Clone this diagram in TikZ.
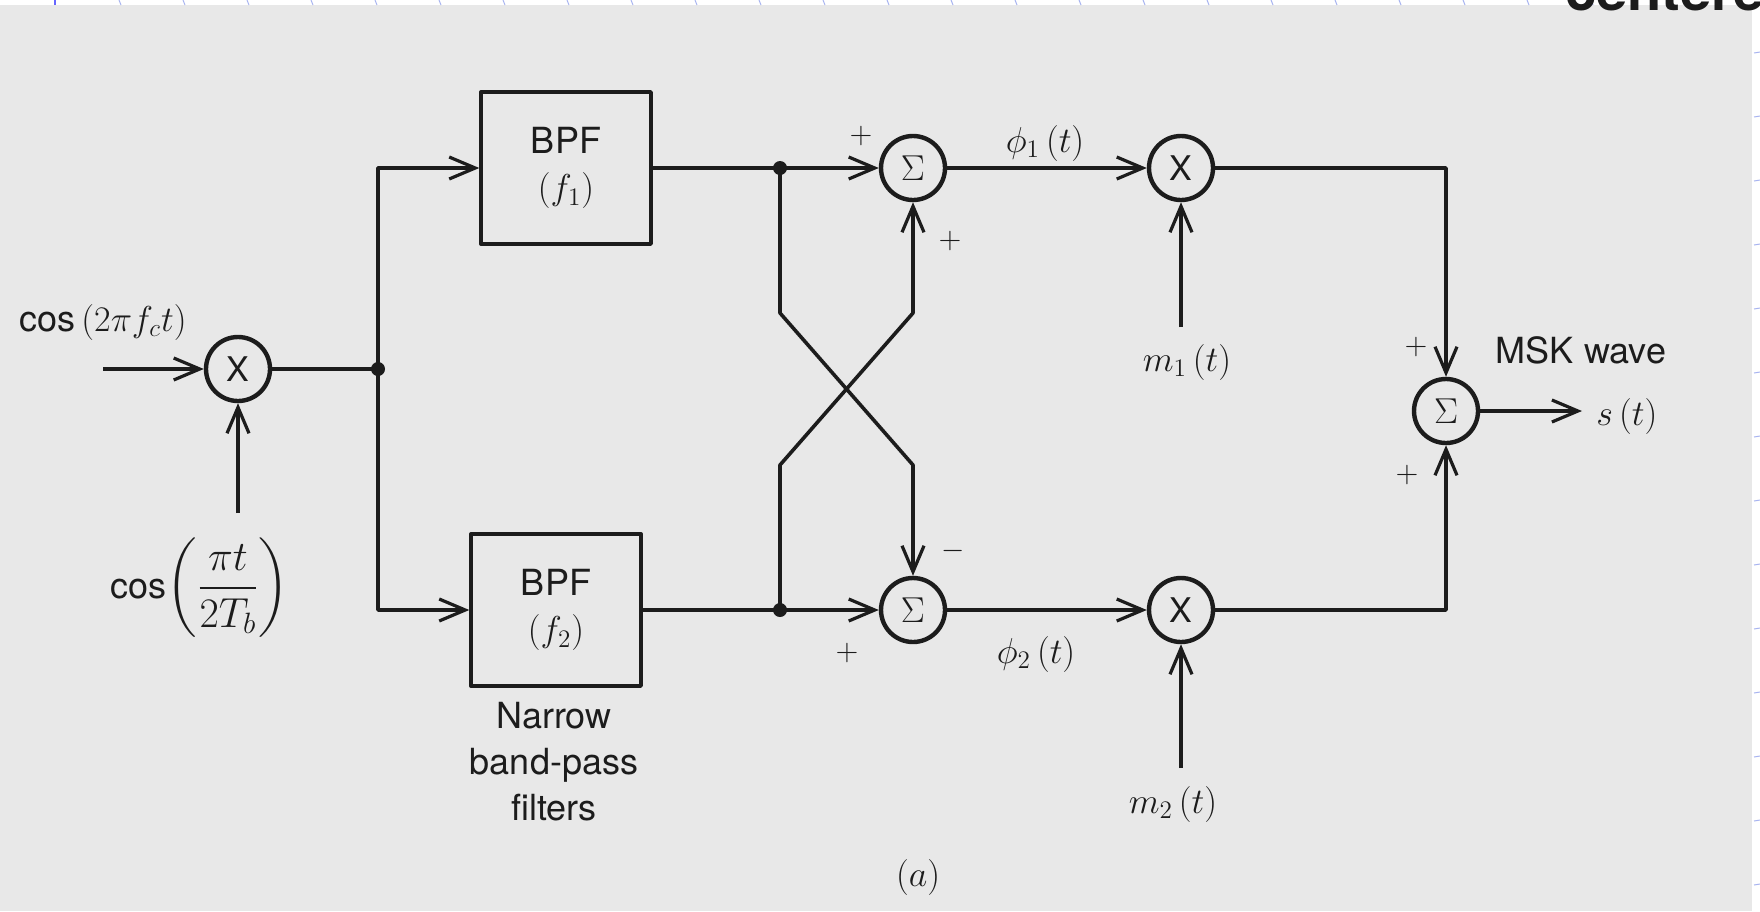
\RequirePackage{fix-cm}
\documentclass[tikz,border=0pt]{standalone}
\usepackage{amsmath}
\usepackage[no-math]{fontspec}
\setmainfont{TeX Gyre Heros}
\usetikzlibrary{arrows.meta}
\definecolor{bg}{HTML}{E8E8E8}
\definecolor{ink}{HTML}{1C1C1C}
\definecolor{tick}{HTML}{A8B4F0}
\begin{document}
\begin{tikzpicture}[x=0.5pt,y=-0.5pt, line join=round,
  every node/.style={text=ink},
  ln/.style={line width=1.8pt, draw=ink},
  arr/.style={ln, -{Straight Barb[length=13pt,width=11pt,line width=1.6pt]}},
  op/.style={circle, draw=ink, line width=2.2pt, minimum size=32pt, inner sep=0pt, font=\fontsize{18}{18}\selectfont},
  filt/.style={rectangle, draw=ink, line width=1.7pt, minimum width=85pt, minimum height=76pt, align=center, font=\fontsize{18}{23}\selectfont},
  lbl/.style={font=\fontsize{18}{23}\selectfont, inner sep=0pt},
  sgn/.style={font=\fontsize{15}{15}\selectfont, inner sep=0pt},
  dot/.style={circle, fill=ink, inner sep=0pt, minimum size=7pt},
]
\useasboundingbox (0,0) rectangle (1760,911);
\fill[white] (0,0) rectangle (1760,911);
\fill[bg] (0,5) rectangle (1752,911);
\foreach \x in {119,183,...,1760} \draw[tick, line width=0.5pt] (\x,0) -- (\x+2,5);
\draw[blue!60, line width=1pt] (55,0) -- (55,5);
\foreach \y in {53,117,...,885} \draw[tick, line width=0.5pt] (1754,\y) -- (1760,\y-1);
\begin{scope}
\clip (0,0) rectangle (1760,911);
\node[anchor=base west, font=\bfseries\fontsize{28}{28}\selectfont, inner sep=0pt] (frag) at (1565,10) {centered};
\end{scope}

% blocks
\node[op, font=\fontsize{17}{17}\selectfont] (m0) at (238,369) {X};
\node[dot] (j) at (378,369) {};
\node[filt] (f1) at (566,168) {BPF\\$(f_1)$};
\node[filt] (f2) at (556,610) {BPF\\$(f_2)$};
\node[dot] (d1) at (780,168) {};
\node[dot] (d2) at (780,610) {};
\node[op] (s1) at (913,168) {$\Sigma$};
\node[op] (s2) at (913,610) {$\Sigma$};
\node[op, font=\fontsize{17}{17}\selectfont] (m1) at (1181,168) {X};
\node[op, font=\fontsize{17}{17}\selectfont] (m2) at (1181,610) {X};
\node[op] (s3) at (1446,411) {$\Sigma$};

% free ends and bends
\coordinate (in0) at (103,369);
\coordinate (in1) at (238,513);
\coordinate (a1) at (780,313);
\coordinate (a2) at (913,465);
\coordinate (b1) at (780,465);
\coordinate (b2) at (913,313);
\coordinate (c1) at (1181,327);
\coordinate (c2) at (1181,768);
\coordinate (out) at (1582,411);

% connectors
\draw[arr] (in0) -- (m0.west);
\draw[arr] (in1) -- (m0.south);
\draw[ln] (m0.east) -- (j.center);
\draw[arr] (j.center) |- (f1.west);
\draw[arr] (j.center) |- (f2.west);
\draw[ln] (f1.east) -- (d1.center);
\draw[arr] (d1.center) -- (s1.west);
\draw[ln] (f2.east) -- (d2.center);
\draw[arr] (d2.center) -- (s2.west);
\draw[arr] (d1.center) -- (a1) -- (a2) -- (s2.north);
\draw[arr] (d2.center) -- (b1) -- (b2) -- (s1.south);
\draw[arr] (s1.east) -- (m1.west);
\draw[arr] (s2.east) -- (m2.west);
\draw[arr] (c1) -- (m1.south);
\draw[arr] (c2) -- (m2.south);
\draw[arr] (m1.east) -| (s3.north);
\draw[arr] (m2.east) -| (s3.south);
\draw[arr] (s3.east) -- (out);

% labels
\node[lbl] (l0) at (103,322) {cos$\,(2\pi f_c t)$};
\node[lbl] (l1) at (200,588) {cos{\fontsize{21}{25}\selectfont$\left(\dfrac{\pi t}{2T_b}\right)$}};
\node[lbl] (p1) at (1045,143) {$\phi_1\,(t)$};
\node[lbl] (p2) at (1036,654) {$\phi_2\,(t)$};
\node[lbl] (lm1) at (1187,362) {$m_1\,(t)$};
\node[lbl] (lm2) at (1173,804) {$m_2\,(t)$};
\node[lbl] (msk) at (1581,350) {MSK wave};
\node[lbl, anchor=west] (st) at (1596,416) {$s\,(t)$};
\node[lbl, align=center] (nb) at (554,762) {Narrow\\band-pass\\filters};
\node[lbl] (cap) at (918,877) {$(a)$};

% signs
\node[sgn] (g1) at (861,136) {$+$};
\node[sgn] (g2) at (950,241) {$+$};
\node[sgn] (g3) at (953,551) {$-$};
\node[sgn] (g4) at (847,653) {$+$};
\node[sgn] (g5) at (1416,347) {$+$};
\node[sgn] (g6) at (1407,475) {$+$};
\end{tikzpicture}
\end{document}
